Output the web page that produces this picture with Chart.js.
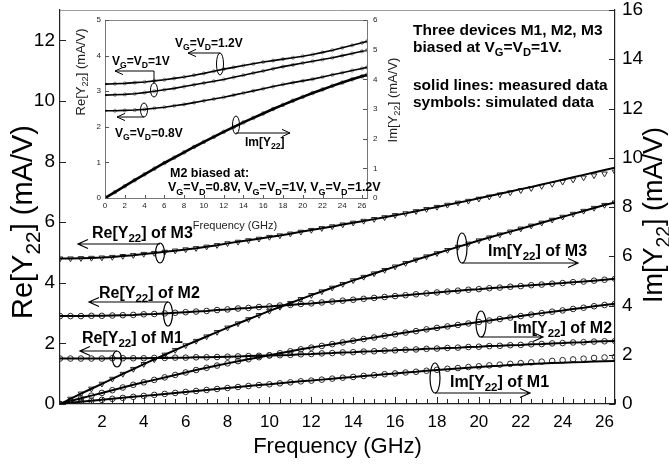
<!DOCTYPE html>
<html>
<head>
<meta charset="utf-8">
<script src="https://cdn.jsdelivr.net/npm/chart.js@4"></script>
<style>
html, body { margin: 0; padding: 0; background: #fff; }
#wrap { position: relative; width: 669px; height: 464px; }
canvas { position: absolute; left: 0; top: 0; }
</style>
</head>
<body>
<div id="wrap">
  <canvas id="main" width="669" height="464"></canvas>
  <canvas id="inset" width="669" height="464"></canvas>
</div>
<script>
// ---- main plot data (frequency in GHz) ----
const freq = [0, 0.5, 1, 1.5, 2, 2.5, 3, 3.5, 4, 4.5, 5, 5.5, 6, 6.5, 7, 7.5, 8, 8.5, 9, 9.5,
  10, 10.5, 11, 11.5, 12, 12.5, 13, 13.5, 14, 14.5, 15, 15.5, 16, 16.5, 17, 17.5, 18, 18.5, 19, 19.5,
  20, 20.5, 21, 21.5, 22, 22.5, 23, 23.5, 24, 24.5, 25, 25.5, 26, 26.5];

// Re[Y22] (left axis, mA/V)
const reM3 = [4.80, 4.80, 4.81, 4.82, 4.83, 4.85, 4.88, 4.91, 4.95, 4.98, 5.02, 5.06, 5.10, 5.14, 5.19, 5.24, 5.30, 5.35, 5.40, 5.45,
  5.51, 5.56, 5.62, 5.68, 5.74, 5.80, 5.86, 5.92, 5.98, 6.04, 6.10, 6.16, 6.23, 6.29, 6.36, 6.43, 6.50, 6.57, 6.64, 6.71,
  6.79, 6.86, 6.94, 7.01, 7.09, 7.16, 7.24, 7.32, 7.40, 7.48, 7.56, 7.64, 7.72, 7.80];
const reM3Sim = [4.80, 4.80, 4.81, 4.82, 4.83, 4.85, 4.88, 4.91, 4.95, 4.98, 5.02, 5.06, 5.10, 5.14, 5.19, 5.24, 5.30, 5.35, 5.40, 5.45,
  5.51, 5.56, 5.62, 5.68, 5.74, 5.80, 5.86, 5.92, 5.98, 6.04, 6.10, 6.16, 6.23, 6.29, 6.36, 6.43, 6.50, 6.57, 6.64, 6.70,
  6.77, 6.84, 6.91, 6.98, 7.05, 7.12, 7.19, 7.26, 7.33, 7.40, 7.47, 7.54, 7.60, 7.66];
const reM2 = [2.90, 2.90, 2.90, 2.91, 2.91, 2.92, 2.93, 2.94, 2.96, 2.97, 2.99, 3.01, 3.03, 3.05, 3.07, 3.10, 3.12, 3.15, 3.17, 3.20,
  3.22, 3.25, 3.27, 3.30, 3.32, 3.35, 3.38, 3.41, 3.44, 3.47, 3.50, 3.53, 3.56, 3.59, 3.62, 3.65, 3.68, 3.71, 3.74, 3.77,
  3.79, 3.82, 3.84, 3.87, 3.89, 3.92, 3.94, 3.97, 3.99, 4.02, 4.04, 4.07, 4.10, 4.13];
const reM1 = [1.50, 1.50, 1.50, 1.50, 1.50, 1.51, 1.51, 1.51, 1.51, 1.52, 1.52, 1.53, 1.53, 1.54, 1.54, 1.55, 1.56, 1.57, 1.58, 1.59,
  1.60, 1.61, 1.62, 1.64, 1.65, 1.67, 1.68, 1.70, 1.71, 1.73, 1.74, 1.76, 1.77, 1.79, 1.80, 1.82, 1.83, 1.85, 1.86, 1.88,
  1.89, 1.91, 1.92, 1.94, 1.95, 1.97, 1.98, 2.00, 2.01, 2.03, 2.04, 2.06, 2.07, 2.08];

// Im[Y22] (right axis, mA/V)
const imM3 = [0, 0.21, 0.42, 0.62, 0.82, 1.02, 1.22, 1.42, 1.62, 1.81, 2.00, 2.19, 2.38, 2.56, 2.74, 2.92, 3.10, 3.27, 3.44, 3.61,
  3.78, 3.94, 4.10, 4.26, 4.42, 4.57, 4.72, 4.87, 5.02, 5.16, 5.30, 5.44, 5.58, 5.72, 5.86, 5.99, 6.12, 6.25, 6.38, 6.51,
  6.64, 6.76, 6.88, 7.00, 7.12, 7.24, 7.36, 7.48, 7.60, 7.72, 7.84, 7.96, 8.08, 8.18];
const imM2 = [0, 0.12, 0.23, 0.34, 0.45, 0.56, 0.67, 0.78, 0.88, 0.98, 1.08, 1.18, 1.28, 1.38, 1.47, 1.56, 1.65, 1.74, 1.82, 1.90,
  1.98, 2.06, 2.14, 2.22, 2.29, 2.36, 2.43, 2.50, 2.57, 2.64, 2.70, 2.77, 2.83, 2.90, 2.96, 3.03, 3.09, 3.15, 3.21, 3.27,
  3.33, 3.39, 3.45, 3.51, 3.57, 3.63, 3.69, 3.75, 3.80, 3.86, 3.91, 3.97, 4.02, 4.07];
const imM1 = [0, 0.05, 0.09, 0.13, 0.17, 0.21, 0.25, 0.29, 0.33, 0.37, 0.41, 0.45, 0.49, 0.53, 0.57, 0.61, 0.65, 0.69, 0.73, 0.77,
  0.80, 0.84, 0.88, 0.92, 0.95, 0.99, 1.03, 1.07, 1.10, 1.14, 1.17, 1.21, 1.24, 1.28, 1.31, 1.35, 1.38, 1.41, 1.44, 1.47,
  1.50, 1.53, 1.55, 1.58, 1.60, 1.62, 1.64, 1.66, 1.68, 1.70, 1.71, 1.73, 1.74, 1.75];
const imM1Sim = [0, 0.05, 0.09, 0.13, 0.17, 0.21, 0.25, 0.29, 0.33, 0.37, 0.41, 0.45, 0.49, 0.53, 0.57, 0.61, 0.65, 0.69, 0.73, 0.77,
  0.80, 0.84, 0.88, 0.92, 0.95, 0.99, 1.03, 1.07, 1.10, 1.14, 1.17, 1.21, 1.24, 1.28, 1.31, 1.35, 1.39, 1.43, 1.46, 1.50,
  1.53, 1.57, 1.60, 1.63, 1.66, 1.69, 1.72, 1.75, 1.78, 1.81, 1.84, 1.87, 1.89, 1.92];

// ---- inset data: M2 at three biases ----
const inFreq = [0, 1, 2, 3, 4, 5, 6, 7, 8, 9, 10, 11, 12, 13, 14, 15, 16, 17, 18, 19, 20, 21, 22, 23, 24, 25, 26, 26.5];
const inRe12 = [3.20, 3.21, 3.22, 3.24, 3.26, 3.29, 3.32, 3.36, 3.40, 3.45, 3.50, 3.56, 3.62, 3.67, 3.72, 3.77, 3.82, 3.86, 3.90, 3.94, 3.98, 4.03, 4.09, 4.15, 4.22, 4.29, 4.36, 4.40];
const inRe10 = [2.89, 2.90, 2.91, 2.93, 2.96, 3.00, 3.04, 3.08, 3.13, 3.18, 3.23, 3.28, 3.33, 3.39, 3.45, 3.51, 3.57, 3.63, 3.69, 3.74, 3.79, 3.84, 3.89, 3.94, 4.00, 4.06, 4.12, 4.15];
const inRe08 = [2.45, 2.45, 2.46, 2.47, 2.49, 2.52, 2.55, 2.59, 2.63, 2.68, 2.73, 2.78, 2.83, 2.89, 2.95, 3.01, 3.07, 3.13, 3.19, 3.24, 3.29, 3.34, 3.40, 3.46, 3.52, 3.58, 3.64, 3.67];
const inIm = [0, 0.20, 0.40, 0.60, 0.80, 0.99, 1.18, 1.36, 1.54, 1.72, 1.89, 2.06, 2.23, 2.39, 2.55, 2.70, 2.85, 3.00, 3.14, 3.28, 3.41, 3.54, 3.66, 3.78, 3.89, 4.00, 4.10, 4.15];

// tick labels
const xTicks = [2, 4, 6, 8, 10, 12, 14, 16, 18, 20, 22, 24, 26];
const leftTicks = [0, 2, 4, 6, 8, 10, 12];
const rightTicks = [0, 2, 4, 6, 8, 10, 12, 14, 16];
const inXTicks = [0, 2, 4, 6, 8, 10, 12, 14, 16, 18, 20, 22, 24, 26];
const inLeftTicks = [0, 1, 2, 3, 4, 5];
const inRightTicks = [0, 1, 2, 3, 4, 5, 6];

const FONT = '"Liberation Sans", Arial, sans-serif';

const pts = (xs, ys) => xs.map((x, i) => ({ x: x, y: ys[i] }));

function lineSet(xs, ys, axis, w) {
  return { data: pts(xs, ys), yAxisID: axis, showLine: true, borderColor: '#000', borderWidth: w,
    pointRadius: 0, fill: false, order: 0 };
}
function symbolSet(xs, ys, axis, style, r, color) {
  return { data: pts(xs, ys), yAxisID: axis, showLine: false, pointStyle: style, pointRadius: r,
    rotation: style === 'triangle' ? 180 : 0, pointBorderColor: color, pointBorderWidth: 1,
    pointBackgroundColor: 'rgba(255,255,255,0)', order: 1 };
}

const setTicks = list => axis => { axis.ticks = list.map(v => ({ value: v })); };
const fixW = w => s => { s.width = w; s.paddingTop = 0; s.paddingBottom = 0; };
const fixH = h => s => { s.height = h; s.paddingLeft = 0; s.paddingRight = 0; };

// text with subscripts: parts = [[text, isSub], ...]
function rich(ctx, parts, x, y, size, weight, align) {
  const sub = size * 0.72;
  let w = 0;
  parts.forEach(p => { ctx.font = weight + ' ' + (p[1] ? sub : size) + 'px ' + FONT; w += ctx.measureText(p[0]).width; });
  let cx = align === 'center' ? x - w / 2 : x;
  ctx.textAlign = 'left';
  ctx.textBaseline = 'alphabetic';
  parts.forEach(p => {
    ctx.font = weight + ' ' + (p[1] ? sub : size) + 'px ' + FONT;
    ctx.fillText(p[0], cx, p[1] ? y + size * 0.28 : y);
    cx += ctx.measureText(p[0]).width;
  });
}
function vtitle(ctx, parts, x, y, size) {
  ctx.save();
  ctx.translate(x, y);
  ctx.rotate(-Math.PI / 2);
  rich(ctx, parts, 0, size * 0.35, size, 'normal', 'center');
  ctx.restore();
}
function arrow(ctx, x1, y, x2, head) {
  const d = x2 > x1 ? 1 : -1;
  ctx.beginPath();
  ctx.moveTo(x1, y); ctx.lineTo(x2, y);
  ctx.moveTo(x2 - d * head, y - head * 0.45); ctx.lineTo(x2, y); ctx.lineTo(x2 - d * head, y + head * 0.45);
  ctx.stroke();
}
function oval(ctx, cx, cy, rx, ry) {
  ctx.beginPath();
  ctx.ellipse(cx, cy, rx, ry, 0, 0, Math.PI * 2);
  ctx.stroke();
}

const reLbl = n => [['Re[Y', 0], ['22', 1], ['] of ' + n, 0]];
const imLbl = n => [['Im[Y', 0], ['22', 1], ['] of ' + n, 0]];
const vgvd = v => [['V', 0], ['G', 1], ['=V', 0], ['D', 1], ['=' + v, 0]];

const mainDecor = {
  id: 'mainDecor',
  afterDraw(chart) {
    const ctx = chart.ctx, a = chart.chartArea;
    const x = chart.scales.x, yl = chart.scales.y, yr = chart.scales.y1;
    ctx.save();
    // frame top
    ctx.strokeStyle = '#9a9a9a'; ctx.lineWidth = 1;
    ctx.beginPath(); ctx.moveTo(a.left, a.top + 0.5); ctx.lineTo(a.right, a.top + 0.5); ctx.stroke();
    // inward tick marks
    ctx.strokeStyle = '#222';
    ctx.beginPath();
    for (let f = 0.5; f < 26.6; f += 0.5) {
      const px = Math.round(x.getPixelForValue(f)) + 0.5;
      const len = f % 2 === 0 ? 7 : 5;
      ctx.moveTo(px, a.bottom); ctx.lineTo(px, a.bottom - len);
    }
    leftTicks.forEach(v => { const py = Math.round(yl.getPixelForValue(v)) + 0.5; ctx.moveTo(a.left, py); ctx.lineTo(a.left + 6, py); });
    rightTicks.forEach(v => { const py = Math.round(yr.getPixelForValue(v)) + 0.5; ctx.moveTo(a.right, py); ctx.lineTo(a.right - 6, py); });
    ctx.stroke();

    ctx.fillStyle = '#000';
    // axis titles
    vtitle(ctx, [['Re[Y', 0], ['22', 1], ['] (mA/V)', 0]], 22, 222, 29);
    vtitle(ctx, [['Im[Y', 0], ['22', 1], ['] (mA/V)', 0]], 653, 215, 27);
    ctx.font = '22px ' + FONT; ctx.textAlign = 'center'; ctx.textBaseline = 'middle';
    ctx.fillText('Frequency (GHz)', (a.left + a.right) / 2, 447);

    // notes top right
    rich(ctx, [['Three devices M1, M2, M3', 0]], 413, 35, 15.5, 'bold', 'left');
    rich(ctx, [['biased at V', 0], ['G', 1], ['=V', 0], ['D', 1], ['=1V.', 0]], 413, 52, 15.5, 'bold', 'left');
    rich(ctx, [['solid lines: measured data', 0]], 413, 90, 15.5, 'bold', 'left');
    rich(ctx, [['symbols: simulated data', 0]], 413, 107, 15.5, 'bold', 'left');

    // curve labels with ovals and arrows
    ctx.strokeStyle = '#000'; ctx.lineWidth = 1.2;
    rich(ctx, reLbl('M3'), 92, 238, 16, 'bold', 'left');
    oval(ctx, 160, 253, 4.5, 10); arrow(ctx, 160, 244, 78, 10);
    rich(ctx, reLbl('M2'), 99, 298, 16, 'bold', 'left');
    oval(ctx, 168, 314, 4.5, 12); arrow(ctx, 168, 302, 89, 10);
    rich(ctx, reLbl('M1'), 82, 343, 16, 'bold', 'left');
    oval(ctx, 117, 359, 4.5, 8); arrow(ctx, 117, 351, 80, 10);
    rich(ctx, imLbl('M3'), 488, 256, 16, 'bold', 'left');
    oval(ctx, 462, 248, 5, 15); arrow(ctx, 462, 263, 578, 10);
    rich(ctx, imLbl('M2'), 513, 333, 16, 'bold', 'left');
    oval(ctx, 481, 324, 5, 13); arrow(ctx, 481, 337, 543, 10);
    rich(ctx, imLbl('M1'), 450, 387, 16, 'bold', 'left');
    oval(ctx, 435, 378, 5, 15); arrow(ctx, 435, 393, 530, 10);
    ctx.restore();
  }
};

new Chart(document.getElementById('main'), {
  type: 'scatter',
  data: {
    datasets: [
      lineSet(freq, reM3, 'y', 2), lineSet(freq, reM2, 'y', 2), lineSet(freq, reM1, 'y', 2),
      lineSet(freq, imM3, 'y1', 2), lineSet(freq, imM2, 'y1', 2), lineSet(freq, imM1, 'y1', 2),
      symbolSet(freq, reM3Sim, 'y', 'triangle', 3.2, '#2a2a2a'),
      symbolSet(freq, reM2, 'y', 'circle', 2.8, '#2a2a2a'),
      symbolSet(freq, reM1, 'y', 'circle', 2.8, '#2a2a2a'),
      symbolSet(freq, imM3, 'y1', 'triangle', 3.2, '#2a2a2a'),
      symbolSet(freq, imM2, 'y1', 'circle', 2.8, '#2a2a2a'),
      symbolSet(freq, imM1Sim, 'y1', 'circle', 2.8, '#2a2a2a')
    ]
  },
  options: {
    responsive: false, animation: false, events: [],
    layout: { padding: { left: 0, right: 0, top: 10, bottom: 0 } },
    plugins: { legend: { display: false }, tooltip: { enabled: false } },
    scales: {
      x: {
        type: 'linear', min: 0, max: 26.5,
        afterBuildTicks: setTicks(xTicks), afterFit: fixH(60),
        grid: { display: false, drawTicks: false },
        border: { display: true, color: '#222', width: 1.2 },
        ticks: { font: { family: FONT, size: 17 }, color: '#000', padding: 8, maxRotation: 0, autoSkip: false }
      },
      y: {
        position: 'left', min: 0, max: 13,
        afterBuildTicks: setTicks(leftTicks), afterFit: fixW(60),
        grid: { display: false, drawTicks: false },
        border: { display: true, color: '#222', width: 1.2 },
        ticks: { font: { family: FONT, size: 19 }, color: '#000', padding: 5 }
      },
      y1: {
        position: 'right', min: 0, max: 16,
        afterBuildTicks: setTicks(rightTicks), afterFit: fixW(54),
        grid: { display: false, drawTicks: false },
        border: { display: true, color: '#222', width: 1.2 },
        ticks: { font: { family: FONT, size: 19 }, color: '#000', padding: 7 }
      }
    }
  },
  plugins: [mainDecor]
});

const insetDecor = {
  id: 'insetDecor',
  afterDraw(chart) {
    const ctx = chart.ctx, a = chart.chartArea;
    const x = chart.scales.x, yl = chart.scales.y, yr = chart.scales.y1;
    ctx.save();
    ctx.strokeStyle = '#8a8a8a'; ctx.lineWidth = 1;
    ctx.beginPath(); ctx.moveTo(a.left, a.top + 0.5); ctx.lineTo(a.right, a.top + 0.5); ctx.stroke();
    ctx.strokeStyle = '#555';
    ctx.beginPath();
    inXTicks.forEach(v => { const px = Math.round(x.getPixelForValue(v)) + 0.5; ctx.moveTo(px, a.bottom); ctx.lineTo(px, a.bottom - 3); });
    inLeftTicks.forEach(v => { const py = Math.round(yl.getPixelForValue(v)) + 0.5; ctx.moveTo(a.left, py); ctx.lineTo(a.left + 4, py); });
    inRightTicks.forEach(v => { const py = Math.round(yr.getPixelForValue(v)) + 0.5; ctx.moveTo(a.right, py); ctx.lineTo(a.right - 4, py); });
    ctx.stroke();

    ctx.fillStyle = '#222';
    vtitle(ctx, [['Re[Y', 0], ['22', 1], ['] (mA/V)', 0]], 80, 72, 13);
    vtitle(ctx, [['Im[Y', 0], ['22', 1], ['] (mA/V)', 0]], 392, 100, 13);
    ctx.font = '11px ' + FONT; ctx.textAlign = 'center'; ctx.textBaseline = 'middle';
    ctx.fillText('Frequency (GHz)', 235, 226);

    ctx.fillStyle = '#000'; ctx.strokeStyle = '#000'; ctx.lineWidth = 1;
    rich(ctx, vgvd('1.2V'), 175, 47, 12, 'bold', 'left');
    oval(ctx, 220, 64, 3.5, 11); arrow(ctx, 220, 53, 188, 8);
    rich(ctx, vgvd('1V'), 112, 65, 12, 'bold', 'left');
    oval(ctx, 154, 90, 3.5, 7);
    ctx.beginPath(); ctx.moveTo(154, 83); ctx.lineTo(154, 71); ctx.stroke();
    arrow(ctx, 154, 71, 115, 8);
    rich(ctx, vgvd('0.8V'), 115, 137, 12, 'bold', 'left');
    oval(ctx, 144, 110, 3.5, 7); arrow(ctx, 144, 117, 117, 8);
    rich(ctx, [['Im[Y', 0], ['22', 1], [']', 0]], 245, 146, 12, 'bold', 'left');
    oval(ctx, 236, 125, 3.5, 9); arrow(ctx, 236, 133, 290, 8);
    rich(ctx, [['M2 biased at:', 0]], 170, 177, 12.5, 'bold', 'left');
    rich(ctx, vgvd('0.8V, ').concat(vgvd('1V, '), vgvd('1.2V')), 168, 191, 12.5, 'bold', 'left');
    ctx.restore();
  }
};

new Chart(document.getElementById('inset'), {
  type: 'scatter',
  data: {
    datasets: [
      lineSet(inFreq, inRe12, 'y', 1.6), lineSet(inFreq, inRe10, 'y', 1.6), lineSet(inFreq, inRe08, 'y', 1.6),
      lineSet(inFreq, inIm, 'y1', 2.6),
      symbolSet(inFreq, inRe12, 'y', 'circle', 1.6, '#8c8c8c'),
      symbolSet(inFreq, inRe10, 'y', 'circle', 1.6, '#8c8c8c'),
      symbolSet(inFreq, inRe08, 'y', 'circle', 1.6, '#8c8c8c'),
      symbolSet(inFreq, inIm, 'y1', 'circle', 1.8, '#777')
    ]
  },
  options: {
    responsive: false, animation: false, events: [],
    layout: { padding: { left: 80, right: 282, top: 20, bottom: 246 } },
    plugins: { legend: { display: false }, tooltip: { enabled: false } },
    scales: {
      x: {
        type: 'linear', min: 0, max: 26.5,
        afterBuildTicks: setTicks(inXTicks), afterFit: fixH(20),
        grid: { display: false, drawTicks: false },
        border: { display: true, color: '#777', width: 1 },
        ticks: { font: { family: FONT, size: 8 }, color: '#222', padding: 3, maxRotation: 0, autoSkip: false }
      },
      y: {
        position: 'left', min: 0, max: 5,
        afterBuildTicks: setTicks(inLeftTicks), afterFit: fixW(25),
        grid: { display: false, drawTicks: false },
        border: { display: true, color: '#777', width: 1 },
        ticks: { font: { family: FONT, size: 8 }, color: '#222', padding: 4 }
      },
      y1: {
        position: 'right', min: 0, max: 6,
        afterBuildTicks: setTicks(inRightTicks), afterFit: fixW(20),
        grid: { display: false, drawTicks: false },
        border: { display: true, color: '#777', width: 1 },
        ticks: { font: { family: FONT, size: 8 }, color: '#222', padding: 6 }
      }
    }
  },
  plugins: [insetDecor]
});
</script>
</body>
</html>
